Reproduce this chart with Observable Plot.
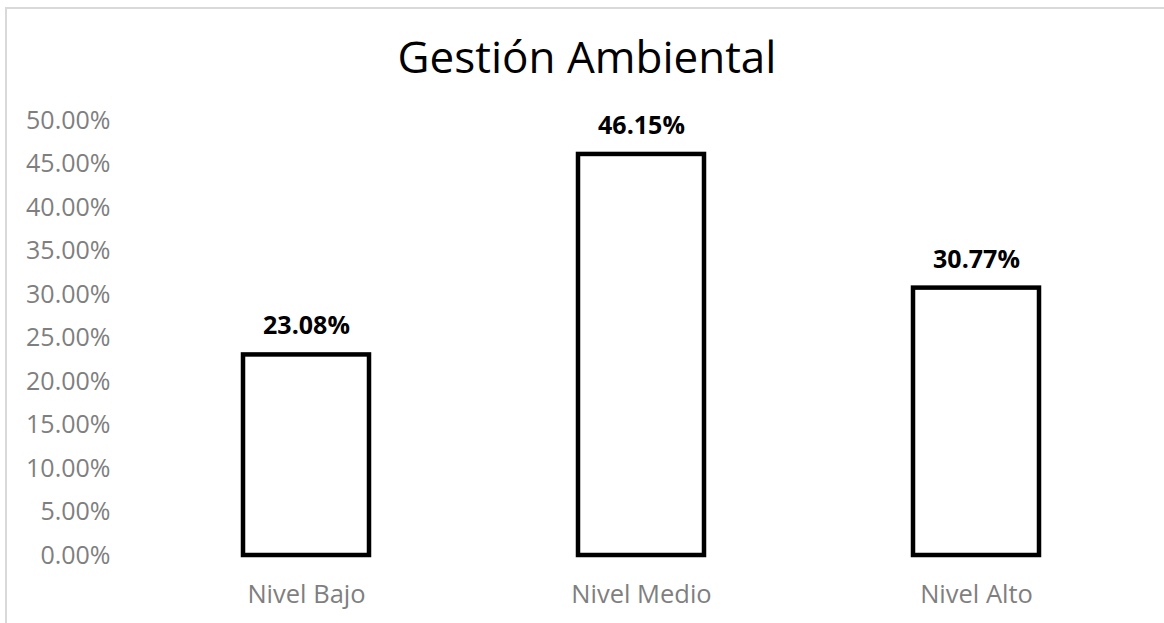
<!DOCTYPE html>
<html>
<head>
<meta charset="utf-8">
<script src="https://cdn.jsdelivr.net/npm/d3@7"></script>
<script src="https://cdn.jsdelivr.net/npm/@observablehq/plot@0.6"></script>
<style>
  html, body { margin: 0; padding: 0; background: #fff; overflow: hidden; }
  #wrap { position: relative; width: 1164px; height: 623px; }
  #frame { position: absolute; left: 5px; top: 7px; width: 1300px; height: 700px;
           border-top: 2px solid #d9d9d9; border-left: 2px solid #d9d9d9; }
  #title { position: absolute; left: 0; width: 1174px; top: 34px; text-align: center;
           font-family: "Open Sans", sans-serif; font-size: 44px; line-height: 1; color: #000; }
  #chart { position: absolute; left: 0; top: 0; }
</style>
</head>
<body>
<div id="wrap">
  <div id="frame"></div>
  <div id="title">Gestión Ambiental</div>
  <div id="chart"></div>
</div>
<script>
const categories = ["Nivel Bajo", "Nivel Medio", "Nivel Alto"];
const values = [23.08, 46.15, 30.77];
const yTicks = [0, 5, 10, 15, 20, 25, 30, 35, 40, 45, 50];

const data = categories.map((c, i) => ({category: c, value: values[i]}));

const chart = Plot.plot({
  width: 1164,
  height: 623,
  marginLeft: 138,
  marginRight: 21,
  marginTop: 120.5,
  marginBottom: 68,
  style: {fontFamily: "Open Sans, sans-serif", fontSize: "25px", background: "transparent"},
  x: {domain: categories, paddingInner: 0.624, paddingOuter: 0.312, label: null},
  y: {domain: [0, 50], label: null},
  marks: [
    Plot.axisY({ticks: yTicks, tickSize: 0, tickPadding: 28, tickFormat: d => d.toFixed(2) + "%",
                color: "#7f7f7f", fontSize: 25, label: null}),
    Plot.axisX({tickSize: 0, tickPadding: 29, color: "#7f7f7f", fontSize: 25.5, label: null}),
    Plot.barY(data, {x: "category", y: "value", fill: "white", stroke: "black", strokeWidth: 4.5}),
    Plot.text(data, {x: "category", y: "value", text: d => d.value.toFixed(2) + "%",
                     dy: -28.5, fontWeight: "bold", fontSize: 25, fill: "black"})
  ]
});
document.getElementById("chart").appendChild(chart);
</script>
</body>
</html>
